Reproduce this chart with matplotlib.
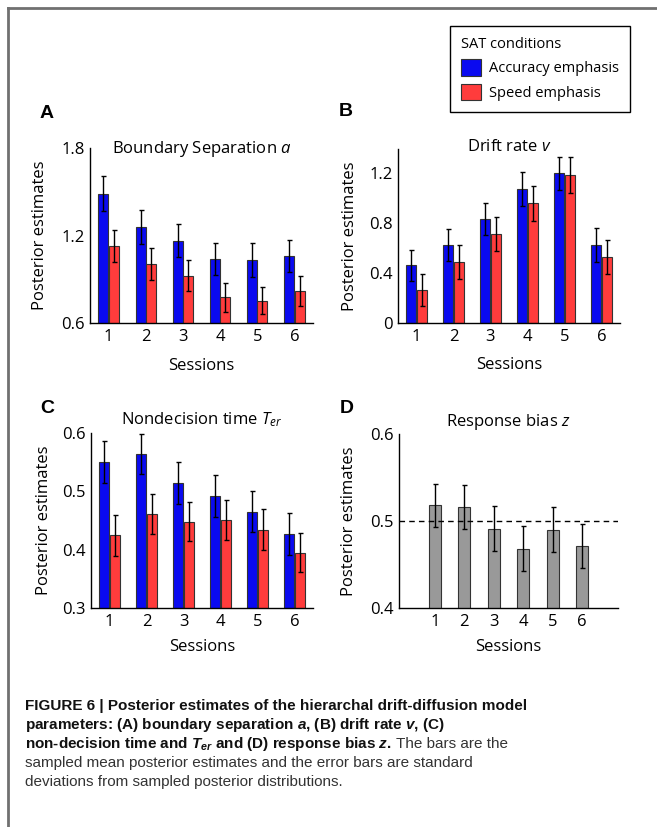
import matplotlib
matplotlib.use("Agg")
import numpy as np
import matplotlib.pyplot as plt
from matplotlib.lines import Line2D
from matplotlib.patches import Patch

sessions = [1, 2, 3, 4, 5, 6]

# (A) boundary separation a
a_acc    = [1.485, 1.258, 1.165, 1.037, 1.032, 1.059]
a_acc_sd = [0.120, 0.115, 0.115, 0.110, 0.114, 0.110]
a_spd    = [1.126, 1.002, 0.925, 0.776, 0.753, 0.819]
a_spd_sd = [0.110, 0.110, 0.105, 0.100, 0.094, 0.103]

# (B) drift rate v
v_acc    = [0.461, 0.624, 0.829, 1.072, 1.197, 0.624]
v_acc_sd = [0.125, 0.128, 0.128, 0.136, 0.131, 0.133]
v_spd    = [0.264, 0.488, 0.709, 0.955, 1.181, 0.528]
v_spd_sd = [0.130, 0.136, 0.136, 0.141, 0.142, 0.139]

# (C) non-decision time Ter
t_acc    = [0.550, 0.564, 0.515, 0.492, 0.465, 0.427]
t_acc_sd = [0.036, 0.035, 0.036, 0.036, 0.035, 0.036]
t_spd    = [0.425, 0.461, 0.448, 0.451, 0.434, 0.395]
t_spd_sd = [0.035, 0.035, 0.034, 0.034, 0.035, 0.034]

# (D) response bias z
z_mean = [0.518, 0.516, 0.491, 0.468, 0.490, 0.471]
z_sd   = [0.025, 0.025, 0.026, 0.026, 0.026, 0.025]

BLUE = '#0a0af0'
RED = '#ff3c3c'
GRAY = '#999999'
EDGE = '#333333'

W, H = 657, 827
CHART_FONT = ['Open Sans', 'DejaVu Sans']
CAP_FONT = ['Liberation Sans', 'DejaVu Sans']
FS = 12

plt.rcParams['font.family'] = CHART_FONT
plt.rcParams['mathtext.fontset'] = 'custom'
plt.rcParams['mathtext.rm'] = 'Open Sans'
plt.rcParams['mathtext.it'] = 'Open Sans:italic'
plt.rcParams['mathtext.bf'] = 'Liberation Sans:bold'
plt.rcParams['mathtext.bfit'] = 'Liberation Sans:italic:bold'

fig = plt.figure(figsize=(W / 100, H / 100), dpi=100)


def px_axes(l, t, r, b):
    return fig.add_axes([l / W, 1 - b / H, (r - l) / W, (b - t) / H])


def style(ax, ylim, yticks, yticklabels, title, title_off, ylab_x, xlab_y):
    ax.set_ylim(*ylim)
    ax.set_yticks(yticks)
    ax.set_yticklabels(yticklabels)
    ax.set_xticks(sessions)
    ax.tick_params(length=0, labelsize=FS, pad=4)
    for s in ['top', 'right']:
        ax.spines[s].set_visible(False)
    for s in ['left', 'bottom']:
        ax.spines[s].set_linewidth(1.0)
    ax.annotate(title, xy=(0.5, 1.0), xycoords='axes fraction',
                xytext=(0, title_off), textcoords='offset pixels',
                ha='center', va='center', fontsize=FS)
    ax.set_ylabel('Posterior estimates', fontsize=FS)
    ax.yaxis.set_label_coords(ylab_x, 0.5)
    ax.yaxis.label.set_va('center')
    ax.set_xlabel('Sessions', fontsize=FS)
    ax.xaxis.set_label_coords(0.5, xlab_y)
    ax.xaxis.label.set_va('center')


def grouped(ax, acc, acc_sd, spd, spd_sd):
    x = np.array(sessions)
    bw = 0.27
    eb = dict(ecolor='black', elinewidth=1.0, capsize=1.8, capthick=1.0)
    b1 = ax.bar(x - 0.14, acc, bw, yerr=acc_sd, color=BLUE, edgecolor=EDGE,
                linewidth=0.8, error_kw=eb, label='Accuracy emphasis')
    b2 = ax.bar(x + 0.14, spd, bw, yerr=spd_sd, color=RED, edgecolor=EDGE,
                linewidth=0.8, error_kw=eb, label='Speed emphasis')
    ax.set_xlim(0.5, 6.5)
    return b1, b2


# panel A
axA = px_axes(90, 148, 313, 323)
grouped(axA, a_acc, a_acc_sd, a_spd, a_spd_sd)
style(axA, (0.6, 1.8), [0.6, 1.2, 1.8], ['0.6', '1.2', '1.8'],
      'Boundary Separation $a$', -1, -0.224, -0.245)

# panel B
axB = px_axes(398, 149, 620, 323)
grouped(axB, v_acc, v_acc_sd, v_spd, v_spd_sd)
style(axB, (0, 1.39), [0, 0.4, 0.8, 1.2], ['0', '0.4', '0.8', '1.2'],
      'Drift rate $v$', 2, -0.216, -0.24)

# panel C
axC = px_axes(91, 433, 313, 608)
grouped(axC, t_acc, t_acc_sd, t_spd, t_spd_sd)
style(axC, (0.3, 0.6), [0.3, 0.4, 0.5, 0.6], ['0.3', '0.4', '0.5', '0.6'],
      'Nondecision time $T_{er}$', 13, -0.21, -0.223)

# panel D
axD = px_axes(399, 434, 618, 608)
axD.bar(sessions, z_mean, 0.4, yerr=z_sd, color=GRAY, edgecolor=EDGE,
        linewidth=0.8,
        error_kw=dict(ecolor='black', elinewidth=1.0, capsize=1.8, capthick=1.0))
axD.axhline(0.5, color='black', linestyle=(0, (4, 3)), linewidth=1.0)
axD.set_xlim(-0.22, 7.22)
style(axD, (0.4, 0.6), [0.4, 0.5, 0.6], ['0.4', '0.5', '0.6'],
      'Response bias $z$', 12, -0.228, -0.224)

# panel letters
for lab, x, y in [('A', 47, 114), ('B', 346, 112), ('C', 47, 408), ('D', 347, 408)]:
    fig.text(x / W, 1 - y / H, lab, fontsize=14, fontweight='bold',
             ha='center', va='center', family=CAP_FONT)

# legend
handles = [Patch(facecolor=BLUE, edgecolor=EDGE, linewidth=0.8),
           Patch(facecolor=RED, edgecolor=EDGE, linewidth=0.8)]
leg = fig.legend(handles, ['Accuracy emphasis', 'Speed emphasis'],
                 title='SAT conditions', loc='upper left',
                 bbox_to_anchor=(450 / W, 1 - 26 / H), borderaxespad=0,
                 fontsize=10.5, title_fontsize=10.5, alignment='left',
                 fancybox=False, edgecolor='black', framealpha=1,
                 handlelength=1.35, handleheight=1.35, handletextpad=0.6,
                 labelspacing=0.5, borderpad=0.75)
leg.get_frame().set_linewidth(1.0)

# frame lines of the figure
fig.add_artist(Line2D([8 / W, 1], [1 - 8 / H, 1 - 8 / H], color='#707070', lw=2))
fig.add_artist(Line2D([8 / W, 8 / W], [0, 1 - 8 / H], color='#707070', lw=2))

# caption
cx = 25 / W
cap_size = 11
fig.text(cx, 1 - 710 / H,
         'FIGURE 6 | Posterior estimates of the hierarchal drift-diffusion model',
         family=CAP_FONT, fontweight='bold', fontsize=cap_size, va='baseline',
         color='#111111')
fig.text(cx, 1 - 729 / H,
         r'parameters: (A) boundary separation $\mathbfit{a}$, (B) drift rate $\mathbfit{v}$, (C)',
         family=CAP_FONT, fontweight='bold', fontsize=cap_size, va='baseline',
         color='#111111')
t3 = fig.text(cx, 1 - 748 / H,
              r'non-decision time and $\mathbfit{T_{er}}$ and (D) response bias $\mathbfit{z}$.',
              family=CAP_FONT, fontweight='bold', fontsize=cap_size, va='baseline',
              color='#111111')
fig.canvas.draw()
bb = t3.get_window_extent()
fig.text(bb.x1 / W, 1 - 748 / H, ' The bars are the',
         family=CAP_FONT, fontsize=cap_size, va='baseline', color='#333333')
fig.text(cx, 1 - 767 / H,
         'sampled mean posterior estimates and the error bars are standard',
         family=CAP_FONT, fontsize=cap_size, va='baseline', color='#333333')
fig.text(cx, 1 - 786 / H,
         'deviations from sampled posterior distributions.',
         family=CAP_FONT, fontsize=cap_size, va='baseline', color='#333333')

fig.savefig('out.png', dpi=100)
